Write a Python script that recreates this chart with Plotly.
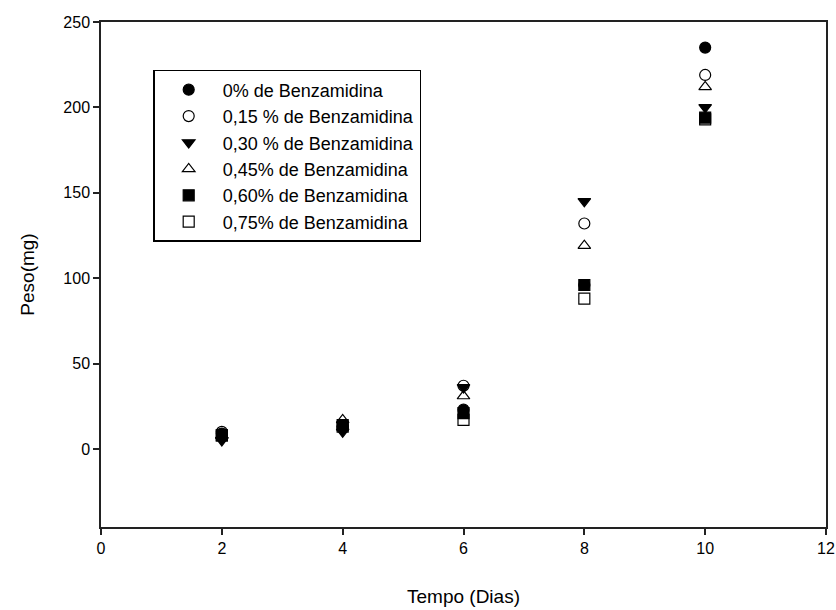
import plotly.graph_objects as go

days = [2, 4, 6, 8, 10]
series_names = [
    "0% de Benzamidina",
    "0,15 % de Benzamidina",
    "0,30 % de Benzamidina",
    "0,45% de Benzamidina",
    "0,60% de Benzamidina",
    "0,75% de Benzamidina",
]
peso_0 = [9, 13, 23, 96, 235]
peso_015 = [10, 13, 37, 132, 219]
peso_030 = [5, 10, 36, 145, 200]
peso_045 = [8, 17, 31, 119, 212]
peso_060 = [8, 14, 21, 96, 194]
peso_075 = [8, 13, 17, 88, 193]
series_values = [peso_0, peso_015, peso_030, peso_045, peso_060, peso_075]
symbols = ["circle", "circle-open", "triangle-down", "triangle-up-open", "square", "square-open"]

x_ticks = [0, 2, 4, 6, 8, 10, 12]
y_ticks = [0, 50, 100, 150, 200, 250]

FONT = "Liberation Sans, Arial, sans-serif"

fig = go.Figure()
for name, vals, sym in zip(series_names, series_values, symbols):
    fig.add_trace(go.Scatter(
        x=days, y=vals, mode="markers", name=name,
        marker=dict(symbol=sym, size=11, color="black",
                    line=dict(color="black", width=1.2)),
    ))

axis_common = dict(
    showline=True, linecolor="#222", linewidth=1.5, mirror=True,
    ticks="outside", ticklen=6, tickcolor="#222", tickwidth=1.5,
    showgrid=False, zeroline=False, automargin=False,
    tickfont=dict(family=FONT, size=16, color="black"),
)
fig.update_xaxes(range=[0, 12], tickvals=x_ticks,
                 title=dict(text="Tempo (Dias)", font=dict(family=FONT, size=19, color="black"), standoff=34),
                 **axis_common)
fig.update_yaxes(range=[-45.7, 250], tickvals=y_ticks,
                 title=dict(text="Peso(mg)", font=dict(family=FONT, size=19, color="black"), standoff=24),
                 **axis_common)

fig.update_layout(
    width=836, height=610,
    margin=dict(l=101, r=10, t=22, b=83),
    plot_bgcolor="white", paper_bgcolor="white",
    legend=dict(x=0.072, y=0.905, xanchor="left", yanchor="top",
                bordercolor="black", borderwidth=1.5, bgcolor="white",
                font=dict(family=FONT, size=18, color="black"),
                tracegroupgap=0, itemwidth=58),
)
fig.write_html("out.html")
